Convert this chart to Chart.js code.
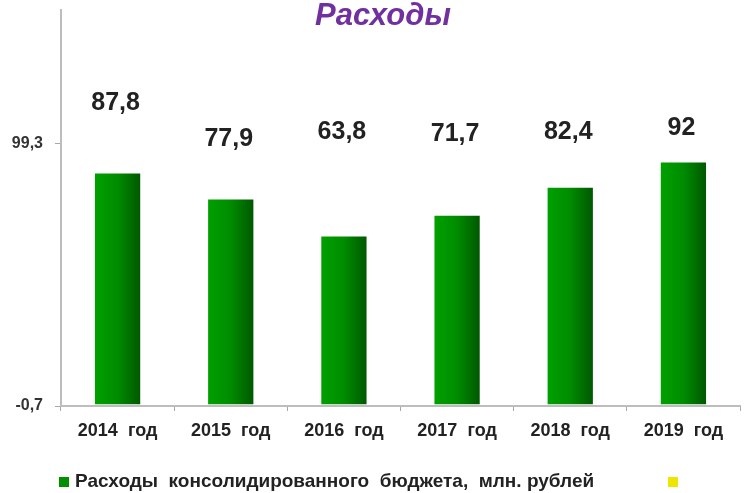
<!DOCTYPE html>
<html>
<head>
<meta charset="utf-8">
<script src="https://cdn.jsdelivr.net/npm/chart.js@4"></script>
<style>
  html, body { margin: 0; padding: 0; background: #fff; }
</style>
</head>
<body>
<canvas id="myChart" width="745" height="493"></canvas>
<script>
const chartTitle = 'Расходы';
const categories = ['2014  год', '2015  год', '2016  год', '2017  год', '2018  год', '2019  год'];
const expenses = [87.8, 77.9, 63.8, 71.7, 82.4, 92];
const secondSeries = [null, null, null, null, null, null];
const seriesNames = ['Расходы  консолидированного  бюджета,  млн. рублей', ''];
const yTicks = [-0.7, 99.3];

// how far each value label sits above its bar (px), as in the original
const labelLift = [70, 60, 104, 82, 56, 34];
const FONT = '"Liberation Sans", Arial, sans-serif';

const fmt = v => (Number.isInteger(v) ? String(v) : v.toFixed(1)).replace('.', ',');

const barFill = (ctx) => {
    const chart = ctx.chart;
    if (!chart.chartArea) return '#008a00';
    const xs = chart.scales.x;
    const cx = xs.getPixelForValue(ctx.dataIndex);
    const half = xs.width / categories.length * 0.4 / 2;
    const g = chart.ctx.createLinearGradient(cx - half, 0, cx + half, 0);
    g.addColorStop(0, '#00a000');
    g.addColorStop(0.5, '#008c00');
    g.addColorStop(1, '#005800');
    return g;
};

const decor = {
    id: 'decor',
    afterDraw(chart) {
        const c = chart.ctx;
        c.save();
        // title
        c.fillStyle = '#7030a0';
        c.font = 'italic bold 31px ' + FONT;
        c.textAlign = 'center';
        c.textBaseline = 'alphabetic';
        c.fillText(chartTitle, 383, 25);

        // value labels
        c.fillStyle = '#222';
        c.font = 'bold 25px ' + FONT;
        c.textBaseline = 'middle';
        chart.getDatasetMeta(0).data.forEach((bar, i) => {
            c.fillText(fmt(expenses[i]), bar.x - 2, bar.y - labelLift[i]);
        });

        // legend
        c.fillStyle = '#009000';
        c.fillRect(59, 477, 10, 10);
        c.fillStyle = '#eee600';
        c.fillRect(668, 477, 10, 10);
        c.fillStyle = '#222';
        c.font = 'bold 19px ' + FONT;
        c.textAlign = 'left';
        c.fillText(seriesNames[0], 75, 482);
        c.fillText(seriesNames[1], 684, 482);
        c.restore();
    }
};

new Chart(document.getElementById('myChart').getContext('2d'), {
    type: 'bar',
    data: {
        labels: categories,
        datasets: [{
            label: seriesNames[0],
            data: expenses,
            backgroundColor: barFill,
            categoryPercentage: 0.8,
            barPercentage: 0.5
        }, {
            type: 'line',
            label: seriesNames[1],
            data: secondSeries,
            backgroundColor: '#eee600',
            borderColor: '#eee600'
        }]
    },
    options: {
        responsive: false,
        animation: false,
        layout: { padding: { top: 10, right: 0, bottom: 47, left: 0 } },
        plugins: {
            legend: { display: false },
            title: { display: false },
            tooltip: { enabled: false }
        },
        scales: {
            x: {
                grid: { offset: true, drawOnChartArea: false, color: '#a8a8a8', tickLength: 5 },
                border: { color: '#bdbdbd', width: 2 },
                ticks: {
                    font: { family: FONT, size: 18, weight: 'bold' },
                    color: '#222',
                    padding: 9,
                    maxRotation: 0
                },
                afterFit: s => { s.height = 40; s.paddingLeft = 0; s.paddingRight = 0; }
            },
            y: {
                min: -0.7,
                max: 150,
                afterBuildTicks: s => { s.ticks = yTicks.map(v => ({ value: v })); },
                grid: { drawOnChartArea: false, color: '#a8a8a8', tickLength: 6 },
                border: { color: '#bdbdbd', width: 2 },
                ticks: {
                    font: { family: FONT, size: 16, weight: 'bold' },
                    color: '#333',
                    padding: 12,
                    callback: v => fmt(v)
                },
                afterFit: s => { s.width = 61; s.paddingTop = 0; s.paddingBottom = 0; }
            }
        }
    },
    plugins: [decor]
});
</script>
</body>
</html>
